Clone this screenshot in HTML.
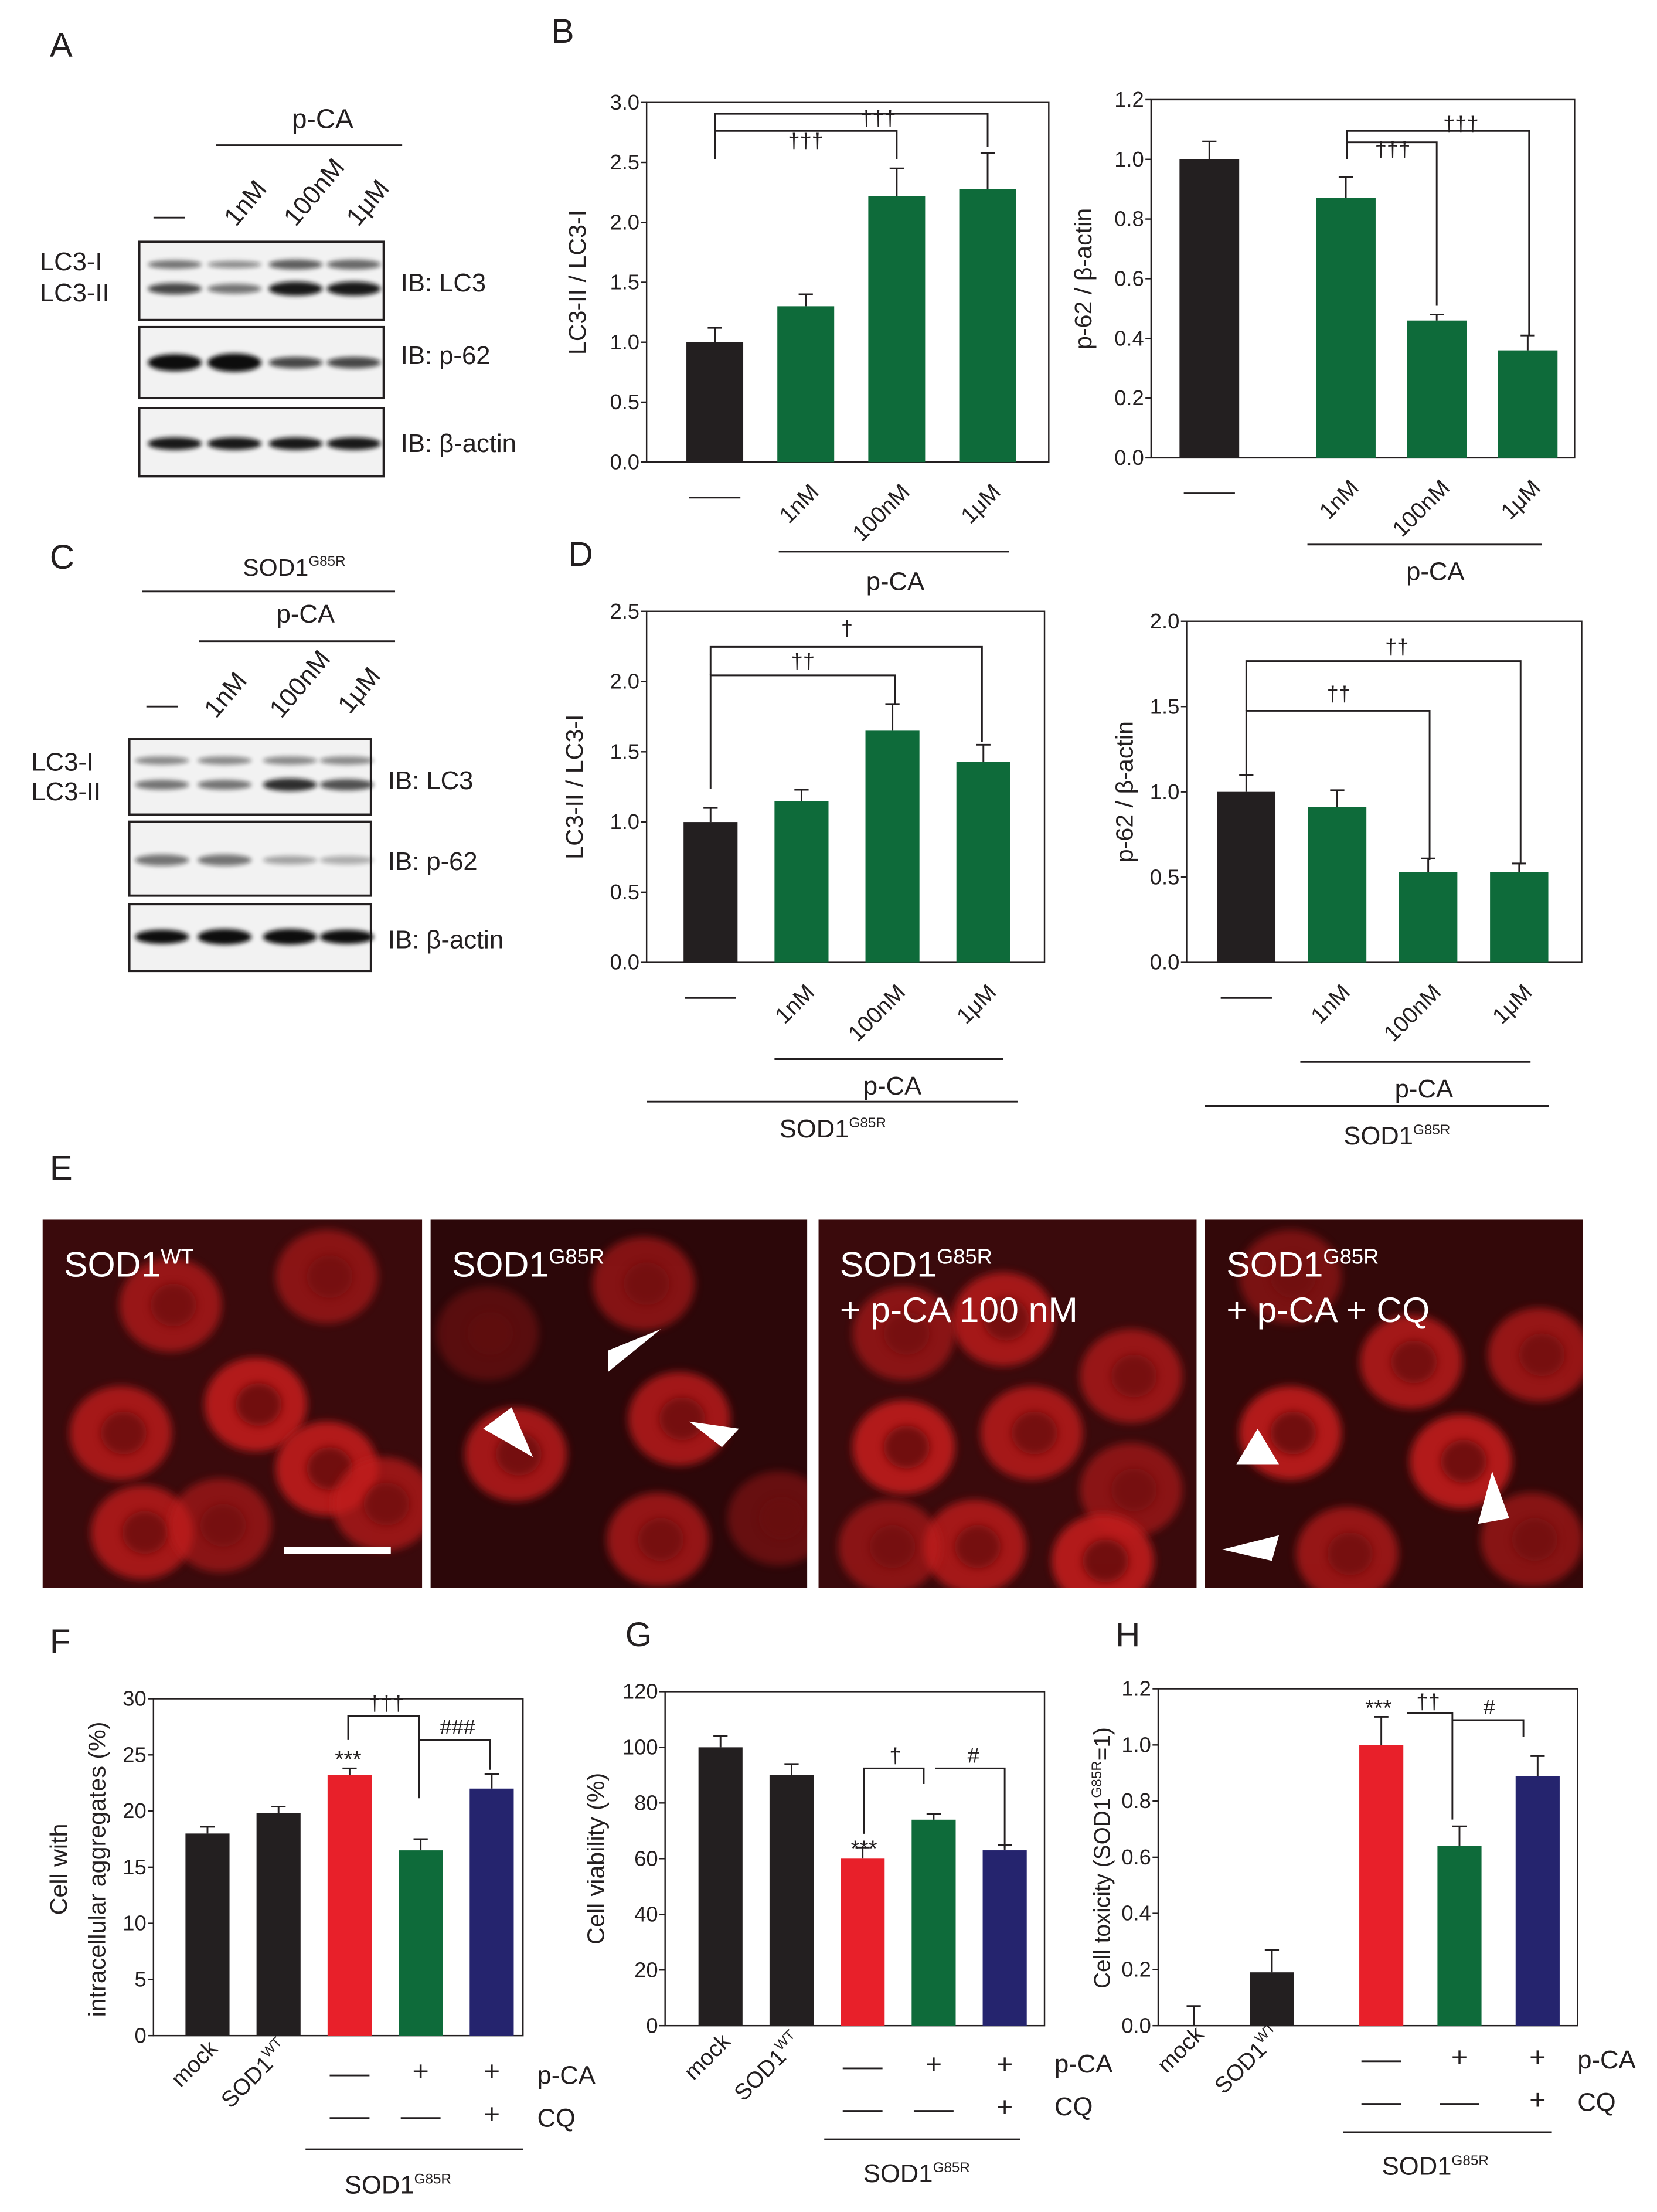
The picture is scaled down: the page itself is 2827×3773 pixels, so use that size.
<!DOCTYPE html>
<html><head><meta charset="utf-8"><style>
html,body{margin:0;padding:0;background:#fff}
svg{display:block}
text{font-family:"Liberation Sans",Arial,sans-serif;fill:#231f20}
</style></head><body>
<svg id="fig" width="2827" height="3773" viewBox="0 0 1166 1556" xmlns="http://www.w3.org/2000/svg">
<defs id="defs">
<filter id="blur1" x="-50%" y="-200%" width="200%" height="500%"><feGaussianBlur stdDeviation="1.6"/></filter>
<filter id="blur3" x="-50%" y="-50%" width="200%" height="200%"><feGaussianBlur stdDeviation="3"/></filter>
</defs>
<g id="static">
<text x="35" y="40" font-size="24">A</text>
<text x="388" y="30" font-size="24">B</text>
<text x="35" y="400" font-size="24">C</text>
<text x="400" y="398" font-size="24">D</text>
<text x="35" y="830" font-size="24">E</text>
<text x="35" y="1163" font-size="24">F</text>
<text x="440" y="1158" font-size="24">G</text>
<text x="785" y="1158" font-size="24">H</text>
</g>
<g id="blots"></g>
<g id="images"></g>
<g id="charts"></g>
</svg>
<script>
const NS="http://www.w3.org/2000/svg";
function el(parent,tag,attrs,txt){const e=document.createElementNS(NS,tag);for(const k in attrs)e.setAttribute(k,attrs[k]);if(txt!==undefined)e.textContent=txt;parent.appendChild(e);return e;}
const C={k:"#231f20",g:"#0e6b3a",r:"#e8202a",b:"#25246e"};

// ---------- chart data ----------
const bLeftCats=["—","1nM","100nM","1μM"];
const bLeftVals=[1.0,1.3,2.22,2.28];
const bLeftErr=[0.12,0.1,0.23,0.3];
const bLeftTicks=["0.0","0.5","1.0","1.5","2.0","2.5","3.0"];
const bRightVals=[1.0,0.87,0.46,0.36];
const bRightErr=[0.06,0.07,0.02,0.05];
const bRightTicks=["0.0","0.2","0.4","0.6","0.8","1.0","1.2"];
const dLeftVals=[1.0,1.15,1.65,1.43];
const dLeftErr=[0.1,0.08,0.19,0.12];
const dLeftTicks=["0.0","0.5","1.0","1.5","2.0","2.5"];
const dRightVals=[1.0,0.91,0.53,0.53];
const dRightErr=[0.1,0.1,0.08,0.05];
const dRightTicks=["0.0","0.5","1.0","1.5","2.0"];
const fVals=[18,19.8,23.2,16.5,22];
const fErr=[0.6,0.6,0.6,1.0,1.3];
const fTicks=["0","5","10","15","20","25","30"];
const gVals=[100,90,60,74,63];
const gErr=[4,4,4,2,2];
const gTicks=["0","20","40","60","80","100","120"];
const hVals=[0,0.19,1.0,0.64,0.89];
const hErr=[0.07,0.08,0.1,0.07,0.07];
const hTicks=["0.0","0.2","0.4","0.6","0.8","1.0","1.2"];

const charts=document.getElementById("charts");
function chart(name,cfg,vals,errs,ticks,colors){
  const g=el(charts,"g",{});
  
  
  const max=cfg.max;
  const y=v=>cfg.y1-(v/max)*(cfg.y1-cfg.y0);
  const x=i=>cfg.start+i*cfg.step+(cfg.gi!==undefined&&i>=cfg.gi?cfg.gap:0);
  const frame=el(g,"rect",{x:cfg.x0,y:cfg.y0,width:cfg.x1-cfg.x0,height:cfg.y1-cfg.y0,fill:"none",stroke:"#231f20","stroke-width":1});
  
  
  ticks.forEach((t,i)=>{
    const v=i*max/(ticks.length-1);
    el(g,"line",{x1:cfg.x0-4,x2:cfg.x0,y1:y(v),y2:y(v),stroke:"#231f20"});
    const tt=el(g,"text",{x:cfg.x0-5,y:y(v)+5,"font-size":15,"text-anchor":"end"},t);
    
    
  });
  if(cfg.ylabel){
  const yl=el(g,"text",{transform:`translate(${cfg.ylx},${(cfg.y0+cfg.y1)/2}) rotate(-90)`,"font-size":cfg.yfs||17,"text-anchor":"middle"},cfg.ylabel);
  
  }
  vals.forEach((v,i)=>{
    const cx=x(i),w=cfg.w;
    const top=y(v+errs[i]);
    const eb=el(g,"path",{d:`M${cx} ${y(v)}V${top}M${cx-5} ${top}H${cx+5}`,stroke:"#231f20","stroke-width":1.2,fill:"none"});
    
    
    const b=el(g,"rect",{x:cx-w/2,y:y(v),width:w,height:cfg.y1-y(v),fill:colors[i]});
    
    
  });
  return {x,y,g};
}
function lbl(g,x,y,t,fs,rot,name,anchor){
  const e=el(g,"text",{x:x,y:y,"font-size":fs||15,"text-anchor":anchor||"middle",transform:rot?`rotate(${rot} ${x} ${y})`:""},"");
  e.innerHTML=t;
  
  
  return e;
}
function line(g,d,name){const e=el(g,"path",{d:d,stroke:"#231f20",fill:"none","stroke-width":1.2});return e;}
function rotCats(g,xf,cats,y0){
  cats.forEach((c,i)=>{ if(c==="—"){line(g,`M${xf(i)-18} ${y0+15}H${xf(i)+18}`,'dash-label');} else lbl(g,xf(i)+10,y0+12,c,16,-45,'x-tick-label','end'); });
}
const SOD='SOD1<tspan font-size="10" dy="-7">G85R</tspan>';

let c=chart("chart-b-lc3",{x0:455,x1:738,y0:72,y1:325,max:3,start:503,step:64,w:40,ylx:412,ylabel:"LC3-II / LC3-I"},bLeftVals,bLeftErr,bLeftTicks,[C.k,C.g,C.g,C.g]);
rotCats(c.g,c.x,bLeftCats,335);
line(c.g,"M548 388H710"); lbl(c.g,630,415,"p-CA",18);
line(c.g,"M503 112V92H631V112"); lbl(c.g,567,104,"†††",15);
line(c.g,"M503 92V80H695V103"); lbl(c.g,618,88,"†††",15);
c=chart("chart-b-p62",{x0:810,x1:1108,y0:70,y1:322,max:1.2,start:851,step:64,gap:32,gi:1,w:42,ylx:768,ylabel:"p-62 / β-actin"},bRightVals,bRightErr,bRightTicks,[C.k,C.g,C.g,C.g]);
rotCats(c.g,c.x,bLeftCats,332);
line(c.g,"M920 383H1085"); lbl(c.g,1010,408,"p-CA",18);
line(c.g,"M948 112V100H1011V215"); lbl(c.g,980,110,"†††",15);
line(c.g,"M948 100V92H1076V236"); lbl(c.g,1028,92,"†††",15);
c=chart("chart-d-lc3",{x0:455,x1:735,y0:430,y1:677,max:2.5,start:500,step:64,w:38,ylx:410,ylabel:"LC3-II / LC3-I"},dLeftVals,dLeftErr,dLeftTicks,[C.k,C.g,C.g,C.g]);
rotCats(c.g,c.x,bLeftCats,687);
line(c.g,"M545 745H706"); lbl(c.g,628,770,"p-CA",18);
line(c.g,"M455 775H716"); lbl(c.g,586,800,SOD,18);
line(c.g,"M500 555V475H630V495"); lbl(c.g,565,470,"††",15);
line(c.g,"M500 475V455H691V522"); lbl(c.g,596,447,"†",15);
c=chart("chart-d-p62",{x0:835,x1:1113,y0:437,y1:677,max:2.0,start:877,step:64,w:41,ylx:797,ylabel:"p-62 / β-actin"},dRightVals,dRightErr,dRightTicks,[C.k,C.g,C.g,C.g]);
rotCats(c.g,c.x,bLeftCats,687);
line(c.g,"M915 747H1077"); lbl(c.g,1002,772,"p-CA",18);
line(c.g,"M848 778H1090"); lbl(c.g,983,805,SOD,18);
line(c.g,"M877 545V500H1006V605"); lbl(c.g,942,493,"††",15);
line(c.g,"M877 500V465H1070V608"); lbl(c.g,983,460,"††",15);

function bottomCats(g,xf,y0,name){
  lbl(g,xf(0)+8,y0+12,"mock",16,-45,name+'-mock','end');
  lbl(g,xf(1)+8,y0+12,'SOD1<tspan font-size="10" dy="-7">WT</tspan>',16,-45,name+'-wt','end');
  line(g,`M${xf(2)-14} ${y0+30}H${xf(2)+14}`);
  lbl(g,xf(3),y0+34,"+",20); lbl(g,xf(4),y0+34,"+",20);
  line(g,`M${xf(2)-14} ${y0+60}H${xf(2)+14}M${xf(3)-14} ${y0+60}H${xf(3)+14}`);
  lbl(g,xf(4),y0+64,"+",20);
}
c=chart("chart-f-aggregates",{x0:108,x1:368,y0:1195,y1:1432,max:30,start:146,step:50,w:31,ylx:60,ylabel:""},fVals,fErr,fTicks,[C.k,C.k,C.r,C.g,C.b]);
lbl(c.g,47,1315,"Cell with",17,-90,'y-title-1');lbl(c.g,74,1315,"intracellular aggregates (%)",17,-90,'y-title-2');
bottomCats(c.g,c.x,1430,'f');
lbl(c.g,378,1466,"p-CA",18,0,'pca-label','start');lbl(c.g,378,1496,"CQ",18,0,'cq-label','start');
line(c.g,"M215 1512H368");lbl(c.g,280,1543,SOD,18);
lbl(c.g,245,1243,"***",16);
line(c.g,"M245 1224V1207H295V1265");lbl(c.g,272,1203,"†††",15);
line(c.g,"M295 1224H345V1245");lbl(c.g,322,1220,"###",15);
c=chart("chart-g-viability",{x0:468,x1:735,y0:1190,y1:1425,max:120,start:507,step:50,w:31,ylx:425,ylabel:"Cell viability (%)"},gVals,gErr,gTicks,[C.k,C.k,C.r,C.g,C.b]);
bottomCats(c.g,c.x,1425,'g');
lbl(c.g,742,1458,"p-CA",18,0,'pca-label','start');lbl(c.g,742,1488,"CQ",18,0,'cq-label','start');
line(c.g,"M580 1505H718");lbl(c.g,645,1535,SOD,18);
lbl(c.g,608,1306,"***",16);
line(c.g,"M608 1290V1244H650V1255");lbl(c.g,630,1240,"†",15);
line(c.g,"M658 1244H707V1300");lbl(c.g,685,1240,"#",15);
c=chart("chart-h-toxicity",{x0:815,x1:1110,y0:1188,y1:1425,max:1.2,start:840,step:55,gap:22,gi:2,w:31,ylx:790,ylabel:""},hVals,hErr,hTicks,[C.k,C.k,C.r,C.g,C.b]);
lbl(c.g,781,1307,'Cell toxicity (SOD1<tspan font-size="10" dy="-6">G85R</tspan><tspan dy="6">=1)</tspan>',16,-90,'y-axis-title');
bottomCats(c.g,c.x,1420,'h');
lbl(c.g,1110,1455,"p-CA",18,0,'pca-label','start');lbl(c.g,1110,1485,"CQ",18,0,'cq-label','start');
line(c.g,"M945 1500H1092");lbl(c.g,1010,1530,SOD,18);
lbl(c.g,970,1207,"***",16);
line(c.g,"M990 1205H1022V1280");lbl(c.g,1005,1202,"††",15);
line(c.g,"M1022 1210H1072V1222");lbl(c.g,1048,1206,"#",15);

// ---------- blots ----------
const blots=document.getElementById("blots");
function blot(x,y,w,h,lanes,rows,name){
  const g=el(blots,"g",{});
  
  el(g,"rect",{x:x,y:y,width:w,height:h,fill:"#f2f2f2",stroke:"#231f20","stroke-width":1.6});
  rows.forEach(r=>lanes.forEach((lx,i)=>{el(g,"ellipse",{cx:lx,cy:y+r.y,rx:r.rx||19,ry:r.ry[i],fill:"#111","opacity":r.op[i],filter:"url(#blur1)"});}));
}
const laneA=[123,165,208,249];
blot(98,170,172,55,laneA,[{y:16,ry:[3,2.5,3.5,3.5],op:[.55,.45,.65,.6]},{y:33,ry:[4,3.5,5,5],op:[.75,.55,.95,.95]}],"blot-a-lc3");
blot(98,230,172,50,laneA,[{y:25,ry:[6,6.5,4,4],op:[1,1,.75,.75]}],"blot-a-p62");
blot(98,287,172,48,laneA,[{y:25,ry:[4.5,4.5,4.5,4.5],op:[.95,.95,.95,.95]}],"blot-a-actin");
const laneC=[114,158,204,244];
blot(91,520,170,53,laneC,[{y:15,ry:[3,3,3,3],op:[.45,.45,.45,.45]},{y:32,ry:[3.5,3.5,4.5,4],op:[.55,.55,.85,.7]}],"blot-c-lc3");
blot(91,578,170,52,laneC,[{y:27,ry:[4,4,3,3],op:[.55,.55,.35,.3]}],"blot-c-p62");
blot(91,636,170,47,laneC,[{y:23,ry:[5,5.5,5.5,5],op:[1,1,1,1]}],"blot-c-actin");
[[28,190,"LC3-I"],[28,212,"LC3-II"],[282,205,"IB: LC3"],[282,256,"IB: p-62"],[282,318,"IB: β-actin"],
 [22,542,"LC3-I"],[22,563,"LC3-II"],[273,555,"IB: LC3"],[273,612,"IB: p-62"],[273,667,"IB: β-actin"]].forEach(t=>lbl(blots,t[0],t[1],t[2],18,0,'blot-label','start'));
lbl(blots,227,90,"p-CA",19);line(blots,"M152 102H283");
line(blots,"M108 153H130");
[[166,160,"1nM"],[208,160,"100nM"],[252,160,"1μM"]].forEach(t=>lbl(blots,t[0],t[1],t[2],18,-50,'lane-label','start'));
lbl(blots,207,405,SOD,17);line(blots,"M100 416H278");
lbl(blots,215,438,"p-CA",18);line(blots,"M140 451H278");
line(blots,"M103 497H125");
[[152,506,"1nM"],[198,506,"100nM"],[246,503,"1μM"]].forEach(t=>lbl(blots,t[0],t[1],t[2],18,-50,'lane-label','start'));

// ---------- microscopy images ----------
const imgs=document.getElementById("images");
const defs=document.getElementById("defs");
const panels=[[30,297,'SOD1<tspan font-size="15" dy="-9">WT</tspan>',"","#3a0a0c"],[303,568,'SOD1<tspan font-size="15" dy="-9">G85R</tspan>',"","#2c0709"],[576,842,'SOD1<tspan font-size="15" dy="-9">G85R</tspan>',"+ p-CA 100 nM","#3a0a0c"],[848,1114,'SOD1<tspan font-size="15" dy="-9">G85R</tspan>',"+ p-CA  + CQ","#330809"]];
const cells=[[[90,60,.7],[200,40,.6],[55,150,.8],[150,130,.9],[200,175,.9],[70,220,.8],[240,200,.7],[125,215,.6]],
 [[150,45,.6],[175,140,.8],[60,165,.8],[160,225,.7],[245,210,.4],[40,80,.3]],
 [[60,160,.9],[130,70,.8],[150,150,.8],[60,80,.6],[220,110,.7],[220,190,.6],[110,230,.8],[200,240,.9],[50,230,.6]],
 [[60,150,.9],[145,100,.8],[180,170,.9],[100,235,.7],[235,95,.7],[60,40,.5],[230,225,.6]]];
panels.forEach((p,pi)=>{
  const cp=el(defs,"clipPath",{id:"clip"+pi});
  el(cp,"rect",{x:p[0],y:858,width:p[1]-p[0],height:259});
  const g=el(imgs,"g",{});
  
  el(g,"rect",{x:p[0],y:858,width:p[1]-p[0],height:259,fill:p[4]});
  const cg=el(g,"g",{"clip-path":"url(#clip"+pi+")"});
  cells[pi].forEach(cc=>{el(cg,"ellipse",{cx:p[0]+cc[0],cy:858+cc[1],rx:36,ry:33,fill:"#c01b1c",opacity:cc[2],filter:"url(#blur3)"});el(cg,"ellipse",{cx:p[0]+cc[0]+2,cy:858+cc[1],rx:16,ry:15,fill:"#6a0f10",opacity:cc[2],filter:"url(#blur3)"});});
  const t=lbl(g,p[0]+15,898,p[2],25,0,'micrograph-title','start');t.style.fill='#fff';
  if(p[3]){const t2=lbl(g,p[0]+15,930,p[3],25,0,'micrograph-subtitle','start');t2.style.fill='#fff';}
});
el(imgs,"rect",{x:200,y:1088,width:75,height:5,fill:"#fff"});
[[[428,950],[465,935],[428,965]],[[340,1005],[375,1025],[360,990]],[[520,1005],[485,1000],[508,1018]],
 [[885,1005],[900,1030],[870,1030]],[[1050,1035],[1040,1072],[1062,1068]],[[860,1090],[900,1080],[895,1098]]].forEach(a=>{
  const e=el(imgs,"polygon",{points:a.map(p=>p.join(",")).join(" "),fill:"#fff"});
  
});
</script>
</body></html>
